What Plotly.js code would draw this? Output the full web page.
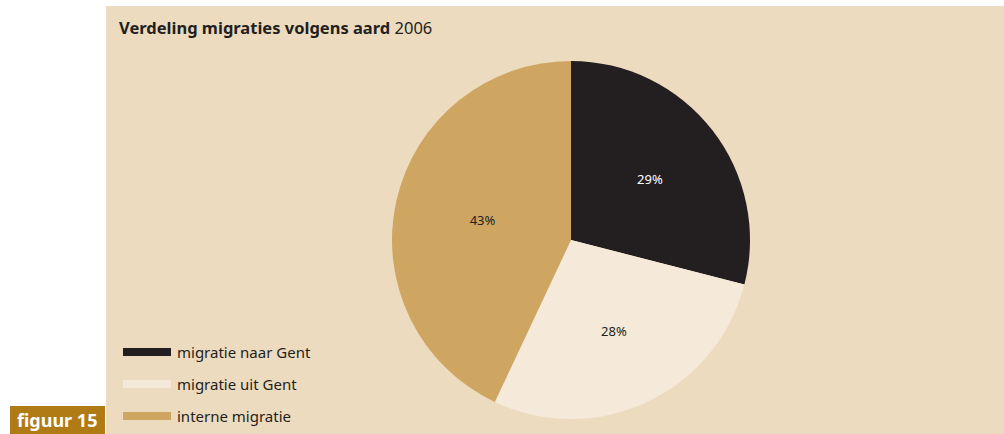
<!DOCTYPE html>
<html>
<head>
<meta charset="utf-8">
<script src="https://cdn.plot.ly/plotly-3.0.1.min.js"></script>
<style>html,body{margin:0;padding:0;background:#fff;}#chart{width:1004px;height:434px;}</style>
</head>
<body>
<div id="chart"></div>
<script>
const labels = ["migratie naar Gent", "migratie uit Gent", "interne migratie"];
const values = [29, 28, 43];
const colors = ["#231f20", "#f5e9da", "#cfa562"];
const textColors = ["#ffffff", "#231f20", "#231f20"];

const W = 1004, H = 434;
const px = x => x / W;
const py = y => (H - y) / H;

const font = "Noto Sans, Open Sans, sans-serif";

const shapes = [
  {type: "rect", xref: "paper", yref: "paper", x0: px(106), x1: 1, y0: 0, y1: py(6), fillcolor: "#eddbbf", line: {width: 0}, layer: "below"},
  {type: "rect", xref: "paper", yref: "paper", x0: px(10), x1: px(105), y0: 0, y1: py(406), fillcolor: "#b07a14", line: {width: 0}, layer: "below"}
];
const annotations = [
  {xref: "paper", yref: "paper", x: px(117), y: py(27), xanchor: "left", yanchor: "middle", showarrow: false,
   text: "<b>Verdeling migraties volgens aard</b> 2006", font: {family: font, size: 16.5, color: "#231f20"}},
  {xref: "paper", yref: "paper", x: px(57), y: py(420), xanchor: "center", yanchor: "middle", showarrow: false,
   text: "<b>figuur 15</b>", font: {family: font, size: 18, color: "#ffffff"}}
];
labels.forEach((lab, i) => {
  const yc = 352 + i * 32;
  shapes.push({type: "rect", xref: "paper", yref: "paper", x0: px(123), x1: px(171), y0: py(yc + 4), y1: py(yc - 4),
    fillcolor: colors[i], line: {width: 0}});
  annotations.push({xref: "paper", yref: "paper", x: px(175), y: py(yc), xanchor: "left", yanchor: "middle", showarrow: false,
    text: lab, font: {family: font, size: 15, color: "#231f20"}});
});

const data = [{
  type: "pie",
  labels: labels,
  values: values,
  sort: false,
  direction: "clockwise",
  rotation: 0,
  marker: {colors: colors, line: {width: 0}},
  textinfo: "percent",
  texttemplate: "%{percent:.0%}",
  textposition: "inside",
  insidetextorientation: "horizontal",
  textfont: {family: font, size: 13, color: textColors},
  hoverinfo: "none",
  domain: {x: [px(392), px(750)], y: [py(419), py(61)]},
  showlegend: false
}];

const layout = {
  width: W, height: H,
  margin: {l: 0, r: 0, t: 0, b: 0},
  paper_bgcolor: "#ffffff",
  plot_bgcolor: "rgba(0,0,0,0)",
  showlegend: false,
  shapes: shapes,
  annotations: annotations
};

Plotly.newPlot("chart", data, layout, {displayModeBar: false, staticPlot: true});
</script>
</body>
</html>
